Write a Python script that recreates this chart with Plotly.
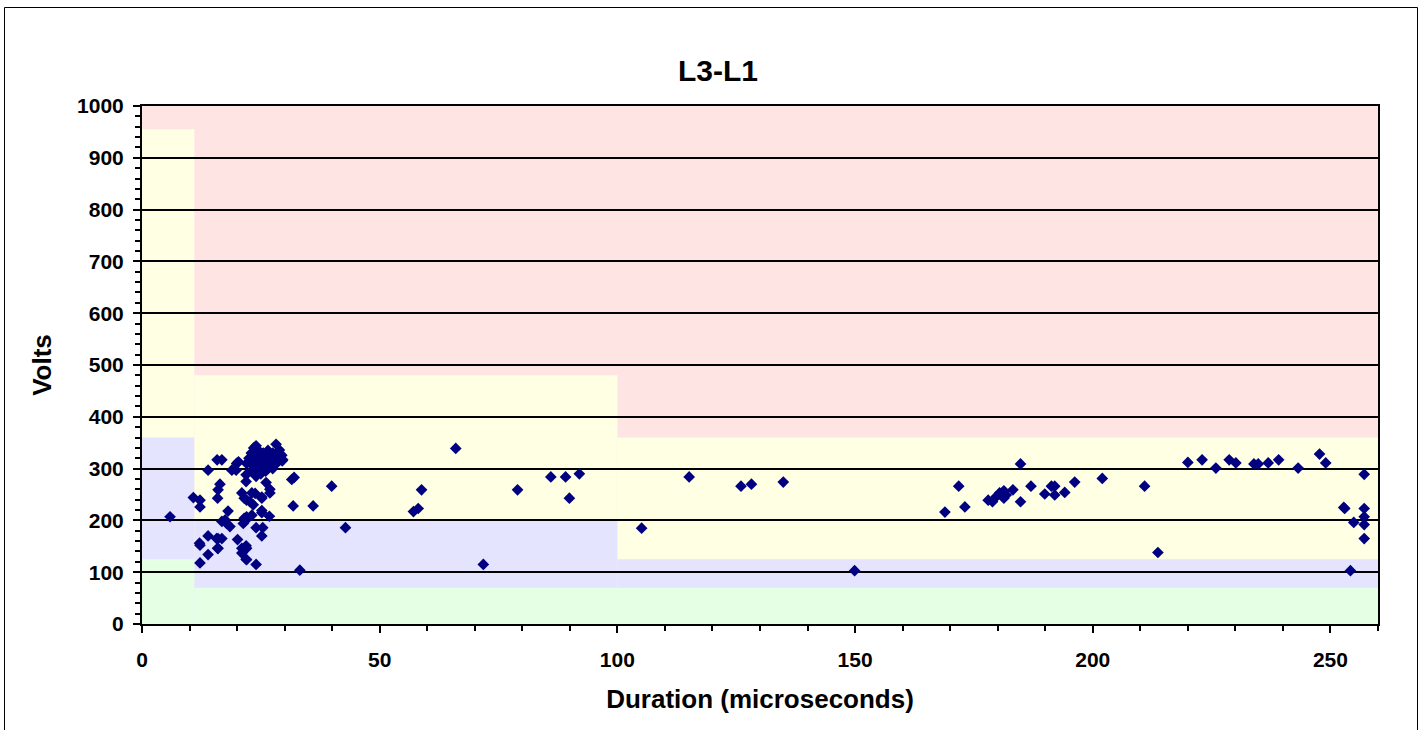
import plotly.graph_objects as go

# ---------------- data ----------------
duration_us = [
    5.9, 10.8, 12.2, 12.2, 12.2, 12.2, 12.1, 13.9, 13.9, 13.9,
    15.8, 16.8, 16.0, 16.4, 15.9, 16.8, 17.8, 18.5, 16.0, 16.8,
    15.7, 15.9, 16.0, 18.1, 17.5, 18.9, 19.8, 19.9, 20.3, 20.1,
    21.0, 21.9, 21.0, 21.9, 22.0, 21.9, 21.9, 21.0, 21.5, 22.0,
    22.7, 23.8, 25.2, 21.5, 21.9, 21.3, 22.0, 23.1, 23.1, 23.4,
    24.0, 24.0, 25.4, 25.2, 24.0, 22.0, 25.2, 25.2, 25.2, 26.1,
    26.9, 26.9, 26.8, 28.2, 28.9, 29.6, 28.3, 29.4, 31.5, 32.0,
    31.8, 36.0, 39.9, 42.8, 33.2, 22.0,
    22.5, 23.0, 23.5, 24.0, 24.5, 25.0, 25.0, 25.5, 26.0, 26.0,
    26.5, 27.0, 27.0, 27.5, 28.0, 28.5, 29.0, 24.0, 23.0, 25.0,
    26.0, 27.0, 28.0, 22.8, 24.5, 23.5, 26.5, 29.5, 24.0, 27.5,
    57.1, 58.1, 58.8, 66.0, 71.8, 79.0, 86.0, 89.1, 89.9, 92.0,
    105.1, 115.1, 126.0, 128.2, 134.9, 149.9,
    168.9, 171.8, 173.1, 178.0, 178.9, 179.7, 180.4, 181.3, 181.8, 181.3,
    183.2, 184.8, 184.8, 187.0, 189.9, 191.3, 192.0, 192.0, 194.1, 196.2,
    202.0, 210.9, 213.7, 220.0, 223.0, 225.9, 228.7, 230.1, 233.9, 234.8,
    236.9, 239.1, 243.2, 247.7, 249.0, 252.8, 253.0, 254.9, 254.2, 257.1,
    257.1, 257.1, 257.1, 257.1,
]
volts = [
    207, 244, 239, 226, 152, 118, 156, 297, 170, 134,
    317, 317, 259, 270, 243, 198, 194, 188, 165, 165,
    165, 146, 146, 218, 201, 297, 297, 310, 313, 163,
    146, 151, 137, 125, 146, 288, 275, 253, 243, 239,
    236, 252, 243, 204, 201, 194, 207, 210, 253, 230,
    344, 186, 186, 170, 115, 124, 245, 219, 215, 273,
    260, 253, 208, 347, 336, 317, 310, 326, 279, 283,
    228, 228, 266, 186, 104, 310,
    320, 330, 315, 325, 335, 320, 305, 330, 315, 325,
    300, 320, 310, 330, 315, 325, 320, 300, 295, 290,
    295, 305, 310, 310, 312, 340, 335, 315, 285, 300,
    217, 223, 259, 339, 115, 259, 284, 284, 243, 290,
    185, 284, 266, 270, 274, 103,
    216, 266, 226, 239, 236, 246, 253, 257, 249, 243,
    259, 236, 309, 266, 251, 266, 266, 249, 254, 274,
    281, 266, 138, 312, 317, 301, 317, 311, 309, 309,
    311, 317, 301, 328, 311, 225, 223, 196, 103, 289,
    223, 207, 192, 165,
]

# tolerance zones: [x0, x1, y0, y1]
zone_pink = [[0, 260, 0, 1000]]
zone_yellow = [[0, 11, 0, 955], [11, 100, 0, 480], [100, 260, 0, 360]]
zone_blue = [[0, 11, 0, 360], [11, 100, 0, 200], [100, 260, 0, 125]]
zone_green = [[0, 11, 0, 125], [11, 260, 0, 70]]

x_ticks = [0, 50, 100, 150, 200, 250]
y_ticks = [0, 100, 200, 300, 400, 500, 600, 700, 800, 900, 1000]

# ---------------- styles ----------------
PINK = "#FFE4E4"
YELLOW = "#FFFFE4"
BLUE = "#E4E4FF"
GREEN = "#E4FFE4"
FONT = "Liberation Sans"

fig = go.Figure()
fig.add_trace(go.Scatter(
    x=duration_us, y=volts, mode="markers",
    marker=dict(symbol="diamond", size=9, color="#000080", line=dict(width=0)),
    showlegend=False, hoverinfo="x+y",
))

shapes = []
for zones, col in [(zone_pink, PINK), (zone_yellow, YELLOW), (zone_blue, BLUE), (zone_green, GREEN)]:
    for x0, x1, y0, y1 in zones:
        shapes.append(dict(type="rect", xref="x", yref="y", x0=x0, x1=x1, y0=y0, y1=y1,
                           fillcolor=col, line=dict(width=0), layer="below"))
# outer chart border
PW = 1424 - 142 - 46
shapes.append(dict(type="rect", xref="paper", yref="paper",
                   x0=(4.5 - 142) / PW, x1=(1417.5 - 142) / PW,
                   y0=(624 - 740) / 518, y1=(624 - 7.5) / 518,
                   line=dict(color="black", width=1), fillcolor="rgba(0,0,0,0)", layer="above"))

tickfont = dict(family=FONT, size=21, color="black", weight="bold")

fig.update_layout(
    width=1424, height=730,
    margin=dict(l=142, r=46, t=106, b=106, autoexpand=False),
    paper_bgcolor="white", plot_bgcolor=PINK,
    title=dict(text="<b>L3-L1</b>", x=718 / 1424, xanchor="center", y=1 - 70 / 730, yanchor="middle",
               font=dict(family=FONT, size=30, color="black")),
    shapes=shapes,
    xaxis=dict(
        range=[0, 260], tickvals=x_ticks, ticktext=[str(v) for v in x_ticks],
        showgrid=False, zeroline=False,
        showline=True, linecolor="black", linewidth=2, mirror=True,
        ticks="outside", ticklen=7, tickwidth=2, tickcolor="black",
        minor=dict(dtick=10, ticks="outside", ticklen=5, tickwidth=1.5, tickcolor="black", showgrid=False),
        tickfont=tickfont, ticklabelstandoff=9,
        title=dict(text="<b>Duration (microseconds)</b>", font=dict(family=FONT, size=26, color="black"), standoff=20),
        automargin=False, fixedrange=True,
    ),
    yaxis=dict(
        range=[0, 1000], tickvals=y_ticks, ticktext=[str(v) for v in y_ticks],
        showgrid=True, gridcolor="black", gridwidth=1.5, zeroline=False,
        showline=True, linecolor="black", linewidth=2, mirror=True,
        ticks="outside", ticklen=7, tickwidth=2, tickcolor="black",
        minor=dict(dtick=20, ticks="outside", ticklen=5, tickwidth=1.5, tickcolor="black", showgrid=False),
        tickfont=tickfont, ticklabelstandoff=5,
        title=dict(text="<b>Volts</b>", font=dict(family=FONT, size=26, color="black"), standoff=18),
        automargin=False, fixedrange=True,
    ),
)

fig.write_html("out.html")
